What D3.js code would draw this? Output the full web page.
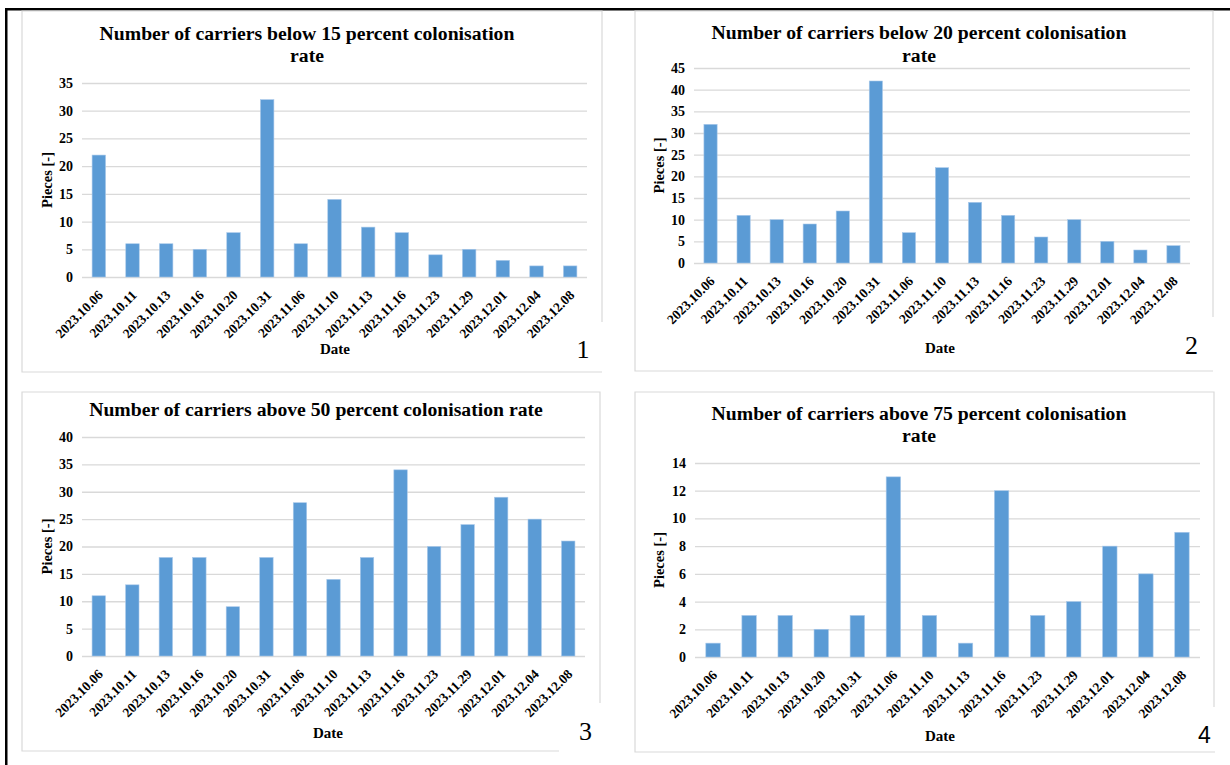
<!DOCTYPE html>
<html>
<head>
<meta charset="utf-8">
<script src="https://cdn.jsdelivr.net/npm/d3@7/dist/d3.min.js"></script>
<style>
  body { margin: 0; background: #fff; }
  svg text { font-family: "Liberation Serif", "Times New Roman", serif; fill: #000; }
</style>
</head>
<body>
<svg id="chart"></svg>
<script>
// dates on the x axis
var dates15 = ["2023.10.06", "2023.10.11", "2023.10.13", "2023.10.16", "2023.10.20", "2023.10.31",
  "2023.11.06", "2023.11.10", "2023.11.13", "2023.11.16", "2023.11.23", "2023.11.29",
  "2023.12.01", "2023.12.04", "2023.12.08"];
var dates14 = ["2023.10.06", "2023.10.11", "2023.10.13", "2023.10.20", "2023.10.31",
  "2023.11.06", "2023.11.10", "2023.11.13", "2023.11.16", "2023.11.23", "2023.11.29",
  "2023.12.01", "2023.12.04", "2023.12.08"];

// counts per panel
var below15 = [22, 6, 6, 5, 8, 32, 6, 14, 9, 8, 4, 5, 3, 2, 2];
var below20 = [32, 11, 10, 9, 12, 42, 7, 22, 14, 11, 6, 10, 5, 3, 4];
var above50 = [11, 13, 18, 18, 9, 18, 28, 14, 18, 34, 20, 24, 29, 25, 21];
var above75 = [1, 3, 3, 2, 3, 13, 3, 1, 12, 3, 4, 8, 6, 9];

var ticks35 = [0, 5, 10, 15, 20, 25, 30, 35];
var ticks45 = [0, 5, 10, 15, 20, 25, 30, 35, 40, 45];
var ticks40 = [0, 5, 10, 15, 20, 25, 30, 35, 40];
var ticks14 = [0, 2, 4, 6, 8, 10, 12, 14];

var W = 1230, H = 765;
var BAR = "#5b9bd5", GRID = "#d9d9d9";

var svg = d3.select("#chart").attr("width", W).attr("height", H);

// outer frame (top and left only)
svg.append("rect").attr("x", 5).attr("y", 8).attr("width", W - 5).attr("height", 2.5).attr("fill", "#000");
svg.append("rect").attr("x", 5).attr("y", 8).attr("width", 2.5).attr("height", H - 8).attr("fill", "#000");

var panels = [
  {cats: dates15, vals: below15, ticks: ticks35, max: 35,
   title: ["Number of carriers below 15 percent colonisation", "rate"], titleX: 307, titleY: [39.5, 62],
   box: [22, 11, 602, 372], rightEnd: 322, bottomEnd: 602,
   plot: [82, 83, 587, 277], ylabX: 52, date: [335, 354], num: "1", numPos: [583, 358], numSans: false},
  {cats: dates15, vals: below20, ticks: ticks45, max: 45,
   title: ["Number of carriers below 20 percent colonisation", "rate"], titleX: 919, titleY: [39, 62],
   box: [635, 11, 1213, 371], rightEnd: 317, bottomEnd: 1213,
   plot: [694, 68, 1190, 263], ylabX: 664, date: [940, 353], num: "2", numPos: [1191.5, 354], numSans: false},
  {cats: dates15, vals: above50, ticks: ticks40, max: 40,
   title: ["Number of carriers above 50 percent colonisation rate"], titleX: 316, titleY: [416],
   box: [22, 392, 600, 751], rightEnd: 703, bottomEnd: 559,
   plot: [82, 437, 585, 656], ylabX: 52, date: [328, 738], num: "3", numPos: [585.5, 740], numSans: false},
  {cats: dates14, vals: above75, ticks: ticks14, max: 14,
   title: ["Number of carriers above 75 percent colonisation", "rate"], titleX: 919, titleY: [419.5, 442],
   box: [635, 392, 1214, 752], rightEnd: 707, bottomEnd: 1215,
   plot: [695, 463, 1200, 657], ylabX: 664, date: [940, 741], num: "4", numPos: [1204.5, 743], numSans: true}
];

panels.forEach(drawPanel);

function drawPanel(p) {
  var g = svg.append("g");
  var b = p.box;

  // light panel border, broken at the bottom right corner
  g.append("path")
    .attr("d", "M" + b[2] + "," + p.rightEnd + "V" + b[1] + "H" + b[0] + "V" + b[3] + "H" + p.bottomEnd)
    .attr("fill", "none").attr("stroke", GRID).attr("stroke-width", 1.2);

  var x0 = p.plot[0], y0 = p.plot[1], x1 = p.plot[2], y1 = p.plot[3];

  var x = d3.scaleBand()
    .domain(p.cats)
    .range([x0, x1])
    .paddingInner(0.6)
    .paddingOuter(0.3);

  var y = d3.scaleLinear()
    .domain([0, p.max])
    .range([y1, y0]);

  // gridlines + y tick labels
  var ya = g.append("g")
    .attr("transform", "translate(" + x0 + ",0)")
    .call(d3.axisLeft(y).tickValues(p.ticks).tickSize(-(x1 - x0)).tickPadding(9).tickFormat(d3.format("d")));
  ya.select(".domain").remove();
  ya.selectAll("line").attr("stroke", GRID).attr("stroke-width", 1.3);
  ya.selectAll("text")
    .style("font-family", "Liberation Serif")
    .style("font-weight", "bold")
    .style("font-size", "14px")
    .attr("fill", "#000");

  // bars
  g.selectAll("rect.bar")
    .data(p.vals)
    .enter().append("rect")
      .attr("class", "bar")
      .attr("x", function(d, i) { return x(p.cats[i]); })
      .attr("width", x.bandwidth())
      .attr("y", function(d) { return y(d); })
      .attr("height", function(d) { return y(0) - y(d); })
      .attr("fill", BAR)
      .attr("stroke", "#a9c9ea")
      .attr("stroke-width", 0.6);

  // x tick labels, rotated
  var xa = g.append("g")
    .attr("transform", "translate(0," + y1 + ")")
    .call(d3.axisBottom(x).tickSize(0));
  xa.select(".domain").remove();
  xa.selectAll("text")
    .attr("y", null).attr("dy", null)
    .attr("text-anchor", "end")
    .attr("transform", "translate(5,19) rotate(-45)")
    .style("font-family", "Liberation Serif")
    .style("font-weight", "bold")
    .style("font-size", "13.5px")
    .attr("fill", "#000");

  // title
  var t = g.append("text")
    .attr("text-anchor", "middle")
    .style("font-weight", "bold")
    .style("font-size", "19.7px");
  p.title.forEach(function(line, i) {
    t.append("tspan").attr("x", p.titleX).attr("y", p.titleY[i]).text(line);
  });

  // axis titles
  g.append("text")
    .attr("transform", "translate(" + p.ylabX + "," + ((y0 + y1) / 2) + ") rotate(-90)")
    .attr("text-anchor", "middle")
    .style("font-weight", "bold")
    .style("font-size", "14.5px")
    .text("Pieces [-]");

  g.append("text")
    .attr("x", p.date[0]).attr("y", p.date[1])
    .attr("text-anchor", "middle")
    .style("font-weight", "bold")
    .style("font-size", "15px")
    .text("Date");

  // panel number
  g.append("text")
    .attr("x", p.numPos[0]).attr("y", p.numPos[1])
    .attr("text-anchor", "middle")
    .style("font-family", p.numSans ? "Liberation Sans" : "Liberation Serif")
    .style("font-size", p.numSans ? "23px" : "26px")
    .text(p.num);
}
</script>
</body>
</html>
